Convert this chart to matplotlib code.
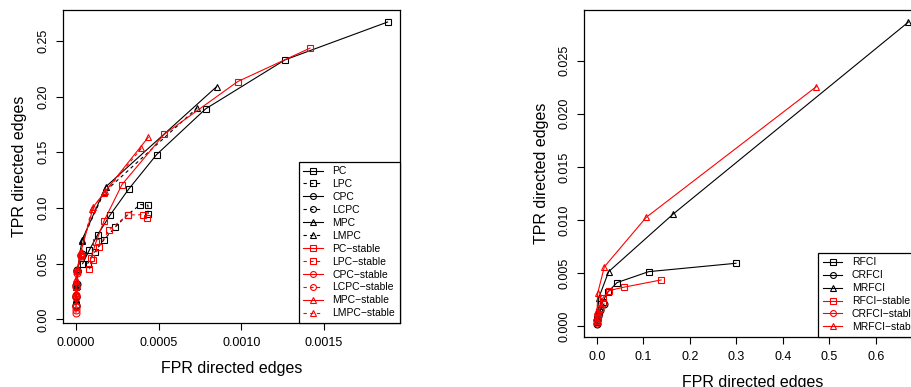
import matplotlib
matplotlib.use("Agg")
import matplotlib.pyplot as plt
from matplotlib.ticker import FormatStrFormatter

plt.rcParams["font.family"] = ["Liberation Sans", "DejaVu Sans"]

# ---- left panel: PC family (FPR, TPR) ----
PC_FPR = [0.001885, 0.001264, 0.000784, 0.000488, 0.000319, 0.000208, 0.000131, 0.000080, 0.000040]
PC_TPR = [0.267, 0.233, 0.189, 0.148, 0.117, 0.094, 0.076, 0.062, 0.050]
LPC_FPR = [0.000436, 0.000435, 0.000390, 0.000312, 0.000236, 0.000169, 0.000115, 0.000070]
LPC_TPR = [0.0945, 0.1025, 0.1031, 0.094, 0.0826, 0.0715, 0.0608, 0.050]
CPC_FPR = [0.000034, 0.000008, 0.000003, 0.000001, 0.0]
CPC_TPR = [0.059, 0.044, 0.032, 0.021, 0.013]
LCPC_FPR = [0.000030, 0.000007, 0.000002, 0.0, 0.0]
LCPC_TPR = [0.058, 0.043, 0.031, 0.020, 0.012]
MPC_FPR = [0.000851, 0.000180, 0.000036, 0.000010, 0.000003, 0.0]
MPC_TPR = [0.209, 0.119, 0.071, 0.045, 0.030, 0.018]
LMPC_FPR = [0.000734, 0.000170, 0.000034, 0.000009, 0.000002, 0.0]
LMPC_TPR = [0.190, 0.114, 0.070, 0.044, 0.029, 0.017]

PCS_FPR = [0.001415, 0.000978, 0.000532, 0.000278, 0.000170, 0.000120, 0.000090]
PCS_TPR = [0.2435, 0.2135, 0.166, 0.121, 0.0885, 0.069, 0.055]
LPCS_FPR = [0.000427, 0.000405, 0.000312, 0.000200, 0.000137, 0.000103, 0.000081]
LPCS_TPR = [0.0907, 0.094, 0.0937, 0.0802, 0.065, 0.0534, 0.045]
CPCS_FPR = [0.000030, 0.000005, 0.000001, 0.0, 0.0, 0.0]
CPCS_TPR = [0.058, 0.043, 0.030, 0.022, 0.012, 0.006]
LCPCS_FPR = [0.000028, 0.000004, 0.000001, 0.0, 0.0, 0.0]
LCPCS_TPR = [0.057, 0.042, 0.029, 0.020, 0.011, 0.008]
MPCS_FPR = [0.000437, 0.000177, 0.000105, 0.000030, 0.000008, 0.000002, 0.0]
MPCS_TPR = [0.1635, 0.115, 0.101, 0.061, 0.044, 0.036, 0.024]
LMPCS_FPR = [0.000395, 0.000170, 0.000097, 0.000028, 0.000007, 0.000001, 0.0]
LMPCS_TPR = [0.1535, 0.113, 0.0995, 0.060, 0.043, 0.035, 0.022]

# ---- right panel: RFCI family ----
RFCI_FPR = [0.299, 0.111, 0.043, 0.023, 0.012, 0.005, 0.001]
RFCI_TPR = [0.00593, 0.00514, 0.00411, 0.0032, 0.0023, 0.0013, 0.0005]
CRFCI_FPR = [0.015, 0.007, 0.003, 0.001, 0.0]
CRFCI_TPR = [0.0021, 0.0015, 0.0010, 0.0006, 0.0002]
MRFCI_FPR = [0.670, 0.164, 0.025, 0.004, 0.001, 0.0]
MRFCI_TPR = [0.02864, 0.01057, 0.00514, 0.0027, 0.0012, 0.0004]
RFCIS_FPR = [0.138, 0.057, 0.026, 0.013, 0.006, 0.002]
RFCIS_TPR = [0.00436, 0.00367, 0.00336, 0.0027, 0.0017, 0.0008]
CRFCIS_FPR = [0.012, 0.006, 0.002, 0.0005, 0.0]
CRFCIS_TPR = [0.0022, 0.0016, 0.0011, 0.0006, 0.0003]
MRFCIS_FPR = [0.4717, 0.106, 0.0158, 0.0014, 0.0003, 0.0]
MRFCIS_TPR = [0.02255, 0.01026, 0.0056, 0.0031, 0.0014, 0.0005]

DOT = (0, (3, 3))
LEFT_SERIES = [
    ("PC", PC_FPR, PC_TPR, "black", "-", "s"),
    ("LPC", LPC_FPR, LPC_TPR, "black", DOT, "s"),
    ("CPC", CPC_FPR, CPC_TPR, "black", "-", "o"),
    ("LCPC", LCPC_FPR, LCPC_TPR, "black", DOT, "o"),
    ("MPC", MPC_FPR, MPC_TPR, "black", "-", "^"),
    ("LMPC", LMPC_FPR, LMPC_TPR, "black", DOT, "^"),
    ("PC\u2212stable", PCS_FPR, PCS_TPR, "red", "-", "s"),
    ("LPC\u2212stable", LPCS_FPR, LPCS_TPR, "red", DOT, "s"),
    ("CPC\u2212stable", CPCS_FPR, CPCS_TPR, "red", "-", "o"),
    ("LCPC\u2212stable", LCPCS_FPR, LCPCS_TPR, "red", DOT, "o"),
    ("MPC\u2212stable", MPCS_FPR, MPCS_TPR, "red", "-", "^"),
    ("LMPC\u2212stable", LMPCS_FPR, LMPCS_TPR, "red", DOT, "^"),
]
RIGHT_SERIES = [
    ("RFCI", RFCI_FPR, RFCI_TPR, "black", "-", "s"),
    ("CRFCI", CRFCI_FPR, CRFCI_TPR, "black", "-", "o"),
    ("MRFCI", MRFCI_FPR, MRFCI_TPR, "black", "-", "^"),
    ("RFCI\u2212stable", RFCIS_FPR, RFCIS_TPR, "red", "-", "s"),
    ("CRFCI\u2212stable", CRFCIS_FPR, CRFCIS_TPR, "red", "-", "o"),
    ("MRFCI\u2212stable", MRFCIS_FPR, MRFCIS_TPR, "red", "-", "^"),
]


def draw_panel(ax, series):
    for label, xs, ys, color, ls, marker in series:
        ax.plot(xs, ys, color=color, linestyle=ls, linewidth=0.8,
                marker=marker, markersize=5, markerfacecolor="none",
                markeredgecolor=color, markeredgewidth=0.8, label=label)
    ax.tick_params(labelsize=9, length=5, width=0.8, pad=5)
    for sp in ax.spines.values():
        sp.set_linewidth(0.9)
    ax.set_xlabel("FPR directed edges", fontsize=11.5, labelpad=9)
    ax.set_ylabel("TPR directed edges", fontsize=11.5, labelpad=7)


def add_legend(ax, anchor, loc):
    leg = ax.legend(loc=loc, bbox_to_anchor=anchor, borderaxespad=0,
                    fontsize=7.5, fancybox=False, edgecolor="black",
                    framealpha=1, handlelength=1.9, labelspacing=0.28,
                    handletextpad=0.9, borderpad=0.45, markerscale=0.85)
    leg.get_frame().set_linewidth(0.9)
    return leg


fig = plt.figure(figsize=(9.12, 3.87), dpi=100)

ax1 = fig.add_axes([0.0691, 0.1654, 0.3695, 0.8088])
draw_panel(ax1, LEFT_SERIES)
ax1.set_xlim(-0.0000786, 0.00196)
ax1.set_ylim(-0.0033, 0.2778)
ax1.set_xticks([0.0, 0.0005, 0.0010, 0.0015])
ax1.xaxis.set_major_formatter(FormatStrFormatter("%.4f"))
ax1.set_yticks([0.0, 0.05, 0.10, 0.15, 0.20, 0.25])
ax1.yaxis.set_major_formatter(FormatStrFormatter("%.2f"))
for lbl in ax1.get_yticklabels():
    lbl.set_rotation(90)
    lbl.set_va("center")
add_legend(ax1, (1.0, 0.0), "lower right")

# right panel runs past the figure edge, as in the original
ax2 = fig.add_axes([0.6407, 0.130, 0.3692, 0.8442])
draw_panel(ax2, RIGHT_SERIES)
ax2.set_xlim(-0.0273, 0.697)
ax2.set_ylim(-0.00098, 0.02977)
ax2.set_xticks([0.0, 0.1, 0.2, 0.3, 0.4, 0.5, 0.6])
ax2.xaxis.set_major_formatter(FormatStrFormatter("%.1f"))
ax2.set_yticks([0.0, 0.005, 0.010, 0.015, 0.020, 0.025])
ax2.yaxis.set_major_formatter(FormatStrFormatter("%.3f"))
for lbl in ax2.get_yticklabels():
    lbl.set_rotation(90)
    lbl.set_va("center")
add_legend(ax2, (0.694, 0.0), "lower left")

fig.savefig("out.png", dpi=100)
